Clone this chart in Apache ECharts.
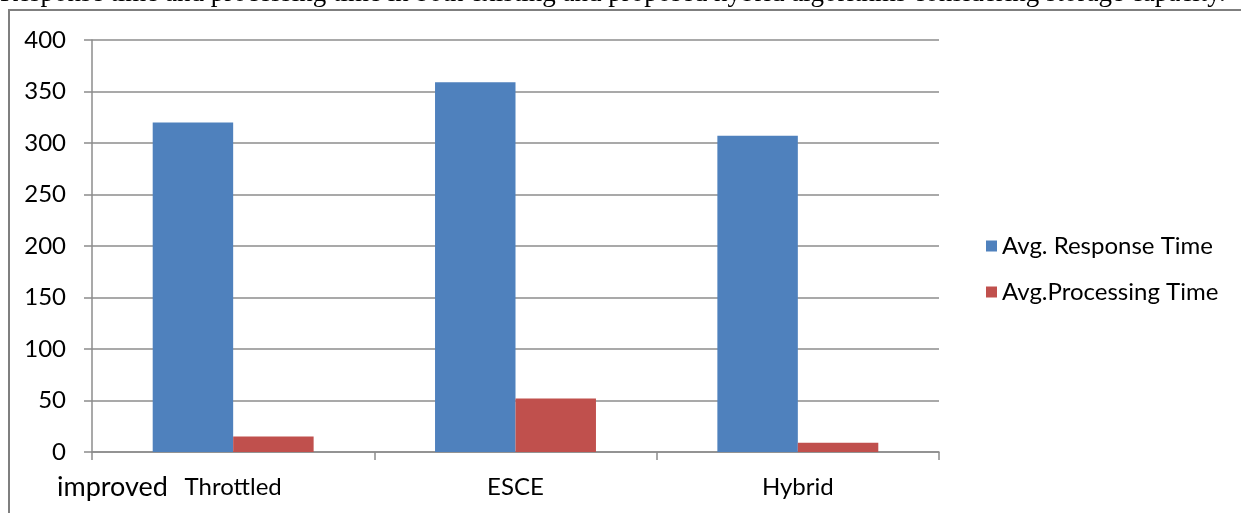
<!DOCTYPE html>
<html>
<head>
<meta charset="utf-8">
<script src="https://cdn.jsdelivr.net/npm/echarts@6/dist/echarts.min.js"></script>
<style>
  html, body { margin: 0; padding: 0; background: #fff; }
  #chart { width: 1241px; height: 513px; }
</style>
</head>
<body>
<div id="chart"></div>
<script>
// data
const categories = ['Throttled', 'ESCE', 'Hybrid'];
const responseTime = [320, 359, 307];
const processingTime = [15, 52, 9];
const yTicks = [0, 400, 50]; // min, max, interval

const caption = 'Response time and processing time in both existing and proposed hybrid algorithms considering storage capacity.';

const chart = echarts.init(document.getElementById('chart'));
const lineColor = '#8c8c8c';
const labelFont = 'Lato, "Open Sans", sans-serif';

chart.setOption({
    animation: false,
    grid: { left: 92, right: 302, top: 40, bottom: 61 },
    legend: {
        orient: 'vertical',
        left: 981,
        top: 229,
        itemWidth: 11,
        itemHeight: 11,
        itemGap: 22,
        icon: 'rect',
        textStyle: { fontSize: 24, lineHeight: 24, color: '#000', fontFamily: labelFont }
    },
    xAxis: {
        type: 'category',
        data: categories,
        axisLine: { lineStyle: { color: lineColor, width: 1.5 } },
        axisTick: { show: true, length: 8, lineStyle: { color: lineColor, width: 1.5 } },
        axisLabel: { fontSize: 24, color: '#000', fontFamily: labelFont, margin: 23 }
    },
    yAxis: {
        type: 'value',
        min: yTicks[0],
        max: yTicks[1],
        interval: yTicks[2],
        axisLine: { show: true, lineStyle: { color: lineColor, width: 1.5 } },
        axisTick: { show: true, length: 8, lineStyle: { color: lineColor, width: 1.5 } },
        splitLine: { lineStyle: { color: lineColor, width: 1.5 } },
        axisLabel: { fontSize: 24, color: '#000', fontFamily: labelFont, margin: 26 }
    },
    series: [
        {
            name: 'Avg. Response Time',
            type: 'bar',
            data: responseTime,
            itemStyle: { color: '#4F81BD' },
            barGap: '0%',
            barCategoryGap: '43%'
        },
        {
            name: 'Avg.Processing Time',
            type: 'bar',
            data: processingTime,
            itemStyle: { color: '#C0504D' }
        }
    ],
    graphic: [
        {
            type: 'text',
            left: 0,
            top: -20,
            style: { text: caption, font: '27px "Liberation Serif", serif', fill: '#000' }
        },
        {
            type: 'polyline',
            shape: { points: [[9, 513], [9, 10], [1241, 10]] },
            style: { stroke: '#7f7f7f', lineWidth: 2, fill: null }
        },
        {
            type: 'text',
            left: 57,
            top: 474,
            style: { text: 'improved', font: '27px ' + labelFont, fill: '#000' }
        }
    ]
});
</script>
</body>
</html>
